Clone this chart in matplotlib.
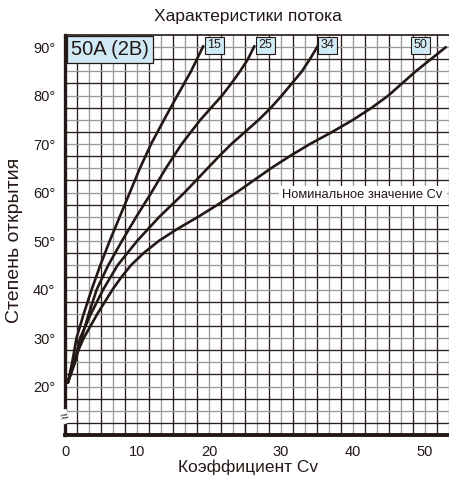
import matplotlib
matplotlib.use("Agg")
import matplotlib.pyplot as plt
from matplotlib import font_manager

plt.rcParams['font.family'] = ['Liberation Sans', 'DejaVu Sans']

title = "Характеристики потока"
xlabel = "Коэффициент Cv"
ylabel = "Степень открытия"
size_label = "50A (2B)"
nominal_label = "Номинальное значение Cv"

series_names = ["15", "25", "34", "50"]
cv_15 = [0.4, 1.0, 1.6, 2.6, 3.7, 4.9, 6.2, 7.6, 9.0, 10.4, 11.95, 13.75, 15.6, 17.5, 19.2]
deg_15 = [20.8, 25, 30, 35, 40, 45, 50, 55, 60, 65, 70, 75, 80, 85, 90.2]
cv_25 = [0.4, 1.4, 2.3, 3.3, 4.4, 6.0, 7.9, 9.9, 12.0, 14.0, 16.2, 17.5, 18.8, 20.3, 21.8,
         23.1, 24.3, 25.4, 26.3]
deg_25 = [20.8, 25, 30, 35, 40, 45, 50, 55, 60, 65, 70, 72.5, 75, 77.5, 80,
          82.5, 85, 87.5, 90.2]
cv_34 = [0.4, 1.3, 2.1, 3.6, 5.3, 7.3, 10.0, 13.1, 16.6, 19.8, 21.4, 23.1, 25.0, 26.9,
         28.6, 30.1, 31.5, 32.9, 34.0, 35.1]
deg_34 = [20.8, 25, 30, 35, 40, 45, 50, 55, 60, 65, 67.5, 70, 72.5, 75,
          77.5, 80, 82.5, 85, 87.5, 90.2]
cv_50 = [0.4, 1.1, 2.6, 4.5, 6.6, 7.8, 9.15, 10.9, 13.0, 15.6, 18.5, 21.2, 23.8, 26.2,
         28.6, 31.2, 34.0, 37.1, 40.0, 42.6, 44.9, 46.8, 48.7, 50.8, 52.9]
deg_50 = [20.8, 25, 30, 35, 40, 42.5, 45, 47.5, 50, 52.5, 55, 57.5, 60, 62.5,
          65, 67.5, 70, 72.5, 75, 77.5, 80, 82.5, 85, 87.5, 90]

xticks = [0, 10, 20, 30, 40, 50]
yticks = [20, 30, 40, 50, 60, 70, 80, 90]

ink = '#231815'
fig = plt.figure(figsize=(4.49, 4.83), dpi=100)
ax = fig.add_axes([65/449, 1-435/483, 1-65/449, (435-35)/483])
xmax = 32 * 10/6
ax.set_xlim(0, xmax)
ax.set_ylim(10, 92.5)

dark = '#2b1d1b'
gray = '#9a9a9a'
for i in range(1, 33):
    xv = i * 10/6
    ax.axvline(xv, color=dark if i % 2 else gray, lw=0.95, zorder=1)
for j in range(1, 33):
    yv = 10 + j * 2.5
    ax.axhline(yv, color=dark if j % 2 else gray, lw=0.95, zorder=1)

series = [(cv_15, deg_15), (cv_25, deg_25), (cv_34, deg_34), (cv_50, deg_50)]
for (cv, dg) in series:
    ax.plot(cv, dg, color=ink, lw=1.9, zorder=3, solid_joinstyle='round', solid_capstyle='round')

box = dict(boxstyle='square,pad=0.2', fc='#cfe9f5', ec=ink, lw=0.8)
offsets = [0.6, 0.6, 0.4, -4.5]
for name, (cv, dg), off in zip(series_names, series, offsets):
    ax.text(cv[-1] + off, 90.4, name, fontsize=9, ha='left', va='center', bbox=box,
            zorder=5, color=ink)

ax.text(0.85, 89.5, size_label, fontsize=14.5, ha='left', va='center', color=ink,
        bbox=dict(boxstyle='square,pad=0.18', fc='#cfe9f5', ec=ink, lw=0.9), zorder=5)

names = {f.name for f in font_manager.fontManager.ttflist}
if 'Liberation Sans Narrow' in names:
    nom_family, nom_size = ['Liberation Sans Narrow', 'DejaVu Sans'], 11
else:
    nom_family, nom_size = ['Liberation Sans', 'DejaVu Sans'], 9.3
ax.text(30.2, 59.4, nominal_label, fontsize=nom_size, ha='left', va='center',
        family=nom_family, color=ink,
        bbox=dict(boxstyle='square,pad=0.3', fc='white', ec='none'), zorder=5)

ax.text(0, 13.8, "≈", fontsize=10, ha='center', va='center', rotation=20, color=ink,
        bbox=dict(boxstyle='square,pad=0.0', fc='white', ec='none'), zorder=6, clip_on=False)

ax.set_xticks(xticks)
ax.set_xticklabels([str(v) for v in xticks], fontsize=10.5)
ax.set_yticks(yticks)
ax.set_yticklabels([f"{v}°" for v in yticks], fontsize=10.5)
ax.tick_params(length=0, pad=7, colors=ink)

ax.spines['right'].set_visible(False)
ax.spines['left'].set_linewidth(2.4)
ax.spines['bottom'].set_linewidth(2.8)
ax.spines['top'].set_linewidth(1.2)
for s in ax.spines.values():
    s.set_color(ink)

fig.text(248/449, 1-17/483, title, fontsize=12.5, ha='center', va='center', color=ink)
fig.text(248/449, 1-467/483, xlabel, fontsize=12.5, ha='center', va='center', color=ink)
fig.text(15/449, 1-240/483, ylabel, fontsize=14, ha='center', va='center', rotation=90, color=ink)

fig.savefig("out.png", dpi=100)
